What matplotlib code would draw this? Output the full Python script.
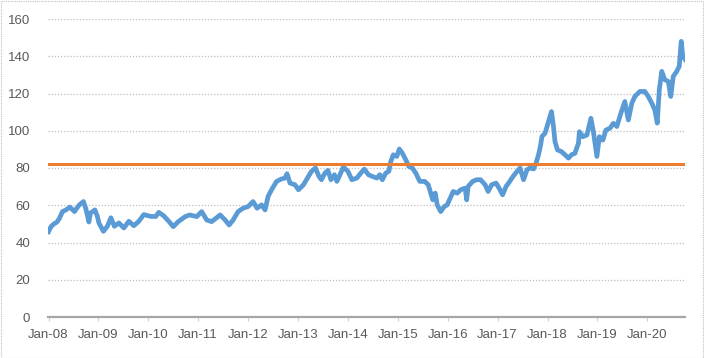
import matplotlib
matplotlib.use("Agg")
import matplotlib.pyplot as plt
from matplotlib.patches import Rectangle

# decimal-year time points and index values
t = [2008.00, 2008.05, 2008.11, 2008.17, 2008.22, 2008.28, 2008.35, 2008.43, 2008.52, 2008.61,
     2008.70, 2008.75, 2008.81, 2008.84, 2008.93, 2008.98, 2009.01, 2009.10, 2009.18, 2009.25,
     2009.32, 2009.41, 2009.51, 2009.61, 2009.71, 2009.81, 2009.91, 2010.05, 2010.15, 2010.21,
     2010.31, 2010.41, 2010.50, 2010.60, 2010.74, 2010.83, 2010.97, 2011.07, 2011.17, 2011.27,
     2011.44, 2011.54, 2011.62, 2011.70, 2011.80, 2011.90, 2012.00, 2012.10, 2012.18, 2012.27,
     2012.34, 2012.40, 2012.47, 2012.57, 2012.67, 2012.74, 2012.78, 2012.84, 2012.94, 2013.01,
     2013.11, 2013.21, 2013.27, 2013.35, 2013.42, 2013.47, 2013.54, 2013.60, 2013.66, 2013.73,
     2013.78, 2013.84, 2013.91, 2014.00, 2014.08, 2014.18, 2014.26, 2014.33, 2014.41, 2014.49,
     2014.58, 2014.64, 2014.69, 2014.76, 2014.82, 2014.86, 2014.91, 2014.98, 2015.03, 2015.09,
     2015.16, 2015.22, 2015.29, 2015.36, 2015.44, 2015.54, 2015.61, 2015.66, 2015.70, 2015.75,
     2015.79, 2015.86, 2015.93, 2015.99, 2016.05, 2016.11, 2016.19, 2016.26, 2016.35, 2016.38,
     2016.41, 2016.50, 2016.58, 2016.66, 2016.75, 2016.81, 2016.88, 2016.97, 2017.03, 2017.10,
     2017.17, 2017.22, 2017.31, 2017.39, 2017.45, 2017.52, 2017.59, 2017.65, 2017.72, 2017.77,
     2017.82, 2017.86, 2017.89, 2017.95, 2018.02, 2018.08, 2018.12, 2018.15, 2018.20, 2018.28,
     2018.35, 2018.42, 2018.48, 2018.55, 2018.62, 2018.64, 2018.71, 2018.79, 2018.87, 2018.92,
     2018.99, 2019.04, 2019.11, 2019.17, 2019.25, 2019.32, 2019.39, 2019.47, 2019.55, 2019.62,
     2019.69, 2019.75, 2019.85, 2019.95, 2020.02, 2020.09, 2020.15, 2020.20, 2020.24, 2020.29,
     2020.35, 2020.42, 2020.47, 2020.52, 2020.59, 2020.64, 2020.68, 2020.71, 2020.76]
values = [45.8, 48.5, 50.0, 51.0, 53.0, 56.6, 57.5, 59.0, 56.6, 60.0,
          62.0, 58.0, 51.0, 55.8, 57.5, 54.0, 50.5, 46.0, 48.7, 53.3,
          48.7, 50.5, 47.8, 51.4, 49.0, 51.4, 55.0, 54.0, 54.0, 56.2,
          54.3, 51.4, 48.5, 51.2, 53.9, 54.8, 53.9, 56.6, 52.1, 51.2,
          54.8, 52.1, 49.4, 52.1, 56.6, 58.4, 59.3, 62.0, 58.4, 60.2,
          57.5, 64.7, 68.3, 72.8, 74.1, 74.6, 76.9, 71.9, 71.0, 68.3,
          71.0, 75.5, 78.2, 80.0, 75.5, 73.7, 77.3, 78.7, 73.7, 76.4,
          72.8, 76.4, 80.5, 78.2, 73.7, 74.6, 77.3, 79.4, 76.4, 75.5,
          74.6, 76.4, 73.7, 77.3, 78.2, 83.5, 87.1, 86.2, 90.2, 88.0,
          84.4, 80.9, 80.0, 77.3, 72.8, 72.8, 71.0, 66.5, 62.9, 66.5,
          60.2, 56.6, 59.3, 60.2, 63.8, 67.4, 66.5, 68.3, 69.2, 62.9,
          70.1, 72.8, 73.7, 73.7, 71.0, 67.4, 71.0, 71.9, 69.2, 65.6,
          70.1, 71.9, 75.5, 78.2, 80.0, 73.7, 79.1, 80.0, 79.5, 82.6,
          87.1, 92.0, 97.0, 98.6, 104.9, 110.3, 102.3, 94.2, 89.7, 88.8,
          87.1, 85.3, 87.1, 87.9, 93.3, 99.5, 96.8, 97.7, 106.7, 99.5,
          86.2, 96.8, 95.0, 100.4, 101.3, 104.0, 102.3, 109.4, 115.7, 105.8,
          114.8, 118.4, 121.1, 121.1, 118.4, 114.8, 111.2, 104.1, 122.0, 131.9,
          127.4, 126.5, 118.4, 129.2, 131.9, 134.6, 148.0, 140.0, 138.2]
threshold = 82
years = list(range(2008, 2021))
year_labels = ["Jan-%02d" % (y % 100) for y in years]
y_ticks = [0, 20, 40, 60, 80, 100, 120, 140, 160]

W, H = 704, 358
fig = plt.figure(figsize=(W / 100, H / 100), dpi=100)
ax = fig.add_axes([48.3 / W, 1 - 317 / H, (685 - 48.3) / W, (317 - 19) / H])

x_left = 2008 + (48.3 - 48.5) / 49.9
x_right = 2008 + (685 - 48.5) / 49.9
ax.set_xlim(x_left, x_right)
ax.set_ylim(0, 160)

ax.plot(t, values, color="#5B9BD5", lw=3.4, solid_joinstyle="round", zorder=3)
ax.plot([x_left, x_right], [threshold, threshold], color="#ED7D31", lw=2.2, zorder=4)

ax.set_yticks(y_ticks)
ax.set_yticklabels([str(v) for v in y_ticks])
ax.set_xticks(years)
ax.set_xticklabels(year_labels)
ax.yaxis.grid(True, linestyle=(0, (1, 1.5)), color="#BFBFBF", lw=0.9)
ax.set_axisbelow(True)

for s in ["top", "right", "left"]:
    ax.spines[s].set_visible(False)
ax.spines["bottom"].set_color("#A6A6A6")
ax.spines["bottom"].set_linewidth(1.6)
ax.tick_params(axis="y", length=0, pad=13, labelsize=9.5, labelcolor="#595959")
ax.tick_params(axis="x", length=3, width=0.8, color="#D0D0D0", direction="out",
               pad=6, labelsize=9.5, labelcolor="#595959")
for lab in ax.get_xticklabels() + ax.get_yticklabels():
    lab.set_fontfamily("Liberation Sans")

fig.patches.append(Rectangle((0.5 / W, 0.5 / H), 1 - 1.5 / W, 1 - 1.5 / H,
                             transform=fig.transFigure, fill=False,
                             edgecolor="#BFBFBF", lw=0.8, linestyle=(0, (1, 1))))

fig.savefig("out.png", dpi=100)
